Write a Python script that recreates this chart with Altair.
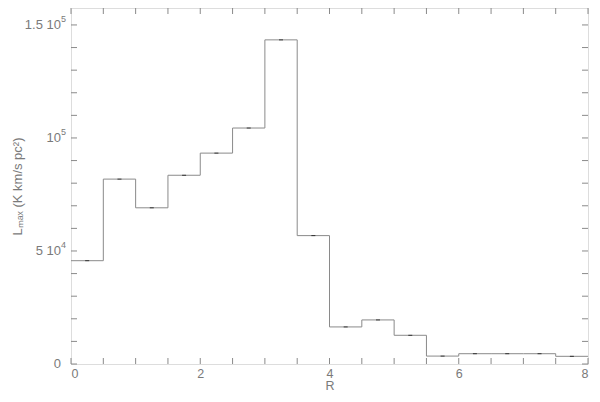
import altair as alt
import pandas as pd

# bin left edges and values
bin_left = [0.0, 0.5, 1.0, 1.5, 2.0, 2.5, 3.0, 3.5, 4.0, 4.5, 5.0, 5.5, 6.0, 6.5, 7.0, 7.5]
l_max = [45700, 81800, 69100, 83500, 93300, 104400, 143400, 56800,
         16400, 19500, 12700, 3500, 4550, 4550, 4550, 3400]
bin_width = 0.5

x_tick_labels = [0, 2, 4, 6, 8]
x_minor = [0.5 * i for i in range(17)]
y_tick_values = [0, 50000, 100000, 150000]
y_label_base = ["0", "5 10", "10", "1.5 10"]
y_label_sup = ["", "4", "5", "5"]
y_minor = [10000 * i for i in range(16)]

W, H = 517, 356
XDOM = [0, 8]
YDOM = [0, 157500]
GRAY = "#8a8a8a"
TXT = "#7a7a7a"
FONT = "Liberation Sans"

step_df = pd.DataFrame({
    "R": bin_left + [bin_left[-1] + bin_width],
    "L": l_max + [l_max[-1]],
})
err_df = pd.DataFrame({
    "R": [b + bin_width / 2 for b in bin_left],
    "L": l_max,
})
ylab_df = pd.DataFrame({"v": y_tick_values, "base": y_label_base, "sup": y_label_sup})

xs = alt.Scale(domain=XDOM, nice=False, zero=False)
ys = alt.Scale(domain=YDOM, nice=False, zero=False)

step = alt.Chart(step_df).mark_line(
    interpolate="step-after", color=GRAY, strokeWidth=1
).encode(
    x=alt.X("R:Q", scale=xs,
            axis=alt.Axis(values=x_tick_labels, format="d", ticks=False, domain=False, grid=False,
                          labelPadding=3, title="R", titlePadding=0,
                          labelFontSize=12.5, titleFontSize=12.5, labelColor=TXT, titleColor=TXT,
                          labelFont=FONT, titleFont=FONT, titleFontWeight="normal")),
    y=alt.Y("L:Q", scale=ys,
            axis=alt.Axis(values=y_tick_values, ticks=False, domain=False, grid=False,
                          labels=False,
                          titleFontSize=13, titleColor=TXT,
                          titleFont=FONT, titleFontWeight="normal",
                          title="L\u2098\u2090\u2093 (K km/s pc\u00b2)",
                          titleX=-54, titleY=H / 2, titleAngle=-90,
                          titleAlign="center", titleBaseline="middle")),
)

err = alt.Chart(err_df).mark_tick(
    orient="horizontal", size=4, thickness=1, color="black"
).encode(
    x=alt.X("R:Q", scale=xs),
    y=alt.Y("L:Q", scale=ys),
)

ylab_base = alt.Chart(ylab_df).mark_text(
    align="right", baseline="middle", fontSize=13, font=FONT, color=TXT
).encode(
    y=alt.Y("v:Q", scale=ys), x=alt.value(-10), text="base:N")
ylab_sup = alt.Chart(ylab_df).mark_text(
    align="left", baseline="middle", dy=-6, fontSize=9, font=FONT, color=TXT
).encode(
    y=alt.Y("v:Q", scale=ys), x=alt.value(-10), text="sup:N")

xt_df = pd.DataFrame({"t": x_minor})
yt_df = pd.DataFrame({"t": y_minor})

xt_bottom = alt.Chart(xt_df).mark_rule(color=GRAY, strokeWidth=1).encode(
    x=alt.X("t:Q", scale=xs), y=alt.value(H), y2=alt.value(H - 6))
xt_top = alt.Chart(xt_df).mark_rule(color=GRAY, strokeWidth=1).encode(
    x=alt.X("t:Q", scale=xs), y=alt.value(0), y2=alt.value(6))
yt_left = alt.Chart(yt_df).mark_rule(color=GRAY, strokeWidth=1).encode(
    y=alt.Y("t:Q", scale=ys), x=alt.value(0), x2=alt.value(6))
yt_right = alt.Chart(yt_df).mark_rule(color=GRAY, strokeWidth=1).encode(
    y=alt.Y("t:Q", scale=ys), x=alt.value(W), x2=alt.value(W - 6))

chart = alt.layer(xt_bottom, xt_top, yt_left, yt_right, step, err, ylab_base, ylab_sup).properties(
    width=W, height=H,
    autosize=alt.AutoSizeParams(type="none"),
    padding={"left": 63, "top": 0, "right": 4, "bottom": 30},
).configure_view(stroke=GRAY, strokeWidth=1).configure(background="white")

chart.save("out.html", embed_options={"renderer": "svg", "actions": False})
